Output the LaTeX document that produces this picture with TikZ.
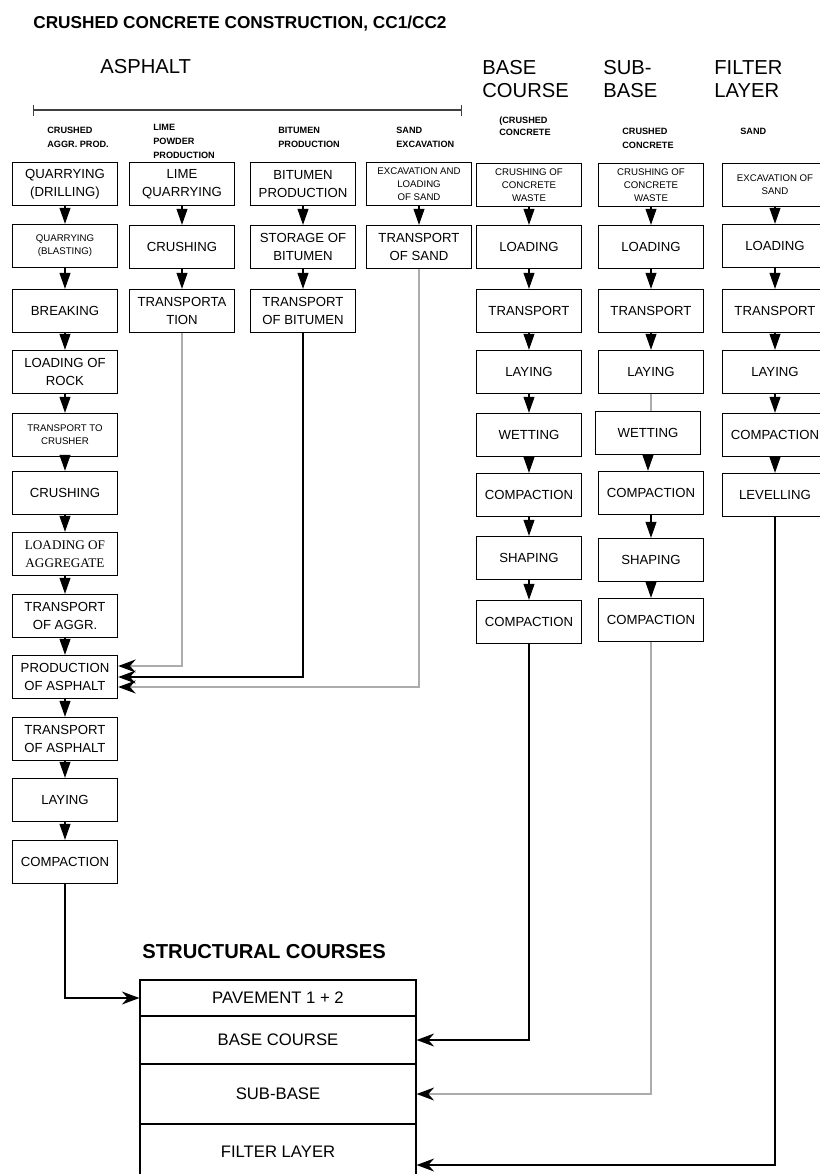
\documentclass[tikz,border=0pt]{standalone}
\usepackage{fontspec}
\setmainfont{Liberation Sans}
\newfontfamily\timesfont{Liberation Serif}
\usetikzlibrary{arrows.meta}

\begin{document}
\begin{tikzpicture}[x=0.02cm, y=-0.02cm,
  box/.style={draw, line width=0.8pt, minimum width=2.1cm, minimum height=0.86cm,
    align=center, inner sep=1pt, font=\fontsize{7.5}{10.5}\selectfont},
  smalltext/.style={font=\fontsize{5.5}{7.5}\selectfont},
  subhead/.style={anchor=west, align=left, inner sep=0pt, font=\bfseries\fontsize{5.2}{8}\selectfont},
  heading/.style={anchor=west, align=left, inner sep=0pt, font=\fontsize{11.5}{13.6}\selectfont},
  course/.style={draw, line width=0.7pt, minimum width=5.52cm, font=\fontsize{9.5}{11}\selectfont},
  flow/.style={-{Triangle[length=0.32cm,width=0.22cm]}, line width=0.6pt},
  feed/.style={-{Stealth[length=0.35cm,width=0.26cm,black]}, line width=0.7pt},
  pale/.style={draw=gray!65}]
  \useasboundingbox (0,0) rectangle (820,1174);
  \clip (0,0) rectangle (820,1174);

  % headings
  \node[heading, font=\bfseries\fontsize{9.8}{12}\selectfont] (title) at (33,24) {CRUSHED CONCRETE CONSTRUCTION, CC1/CC2};
  \node[heading] (asph) at (100,67) {ASPHALT};
  \node[heading] (basehd) at (482,79) {BASE\\COURSE};
  \node[heading] (subhd) at (603,79) {SUB-\\BASE};
  \node[heading] (filthd) at (714,79) {FILTER\\LAYER};
  \coordinate (barl) at (33,110);
  \coordinate (barr) at (462,110);
  \draw[gray!50!black, line width=0.6pt, {Bar[width=0.22cm]}-{Bar[width=0.22cm]}] (barl) -- (barr);

  \node[subhead] (sh1) at (47,137) {CRUSHED\\AGGR. PROD.};
  \node[subhead] (sh2) at (153,141) {LIME\\POWDER\\PRODUCTION};
  \node[subhead] (sh3) at (278,137) {BITUMEN\\PRODUCTION};
  \node[subhead] (sh4) at (396,137) {SAND\\EXCAVATION};
  \node[subhead, font=\bfseries\fontsize{5.2}{7}\selectfont] (sh5) at (499,126) {(CRUSHED\\CONCRETE};
  \node[subhead] (sh6) at (622,138) {CRUSHED\\CONCRETE};
  \node[subhead] (sh7) at (740,131) {SAND};

  % asphalt aggregate
  \node[box] (a1) at (65,184) {QUARRYING\\(DRILLING)};
  \node[box, smalltext] (a2) at (65,246) {QUARRYING\\(BLASTING)};
  \node[box] (a3) at (65,311) {BREAKING};
  \node[box] (a4) at (65,372) {LOADING OF\\ROCK};
  \node[box, smalltext] (a5) at (65,435) {TRANSPORT TO\\CRUSHER};
  \node[box] (a6) at (65,493) {CRUSHING};
  \node[box, font=\timesfont\fontsize{7.5}{10.5}\selectfont] (a7) at (65,554) {LOADING OF\\AGGREGATE};
  \node[box] (a8) at (65,616) {TRANSPORT\\OF AGGR.};
  \node[box] (a9) at (65,677) {PRODUCTION\\OF ASPHALT};
  \node[box] (a10) at (65,739) {TRANSPORT\\OF ASPHALT};
  \node[box] (a11) at (65,800) {LAYING};
  \node[box] (a12) at (65,862) {COMPACTION};

  % lime, bitumen, sand
  \node[box] (l1) at (182,184) {LIME\\QUARRYING};
  \node[box] (l2) at (182,247) {CRUSHING};
  \node[box] (l3) at (182,311) {TRANSPORTA\\TION};
  \node[box] (b1) at (303,184) {BITUMEN\\PRODUCTION};
  \node[box] (b2) at (303,247) {STORAGE OF\\BITUMEN};
  \node[box] (b3) at (303,311) {TRANSPORT\\OF BITUMEN};
  \node[box, smalltext] (s1) at (419,184) {EXCAVATION AND\\LOADING\\OF SAND};
  \node[box] (s2) at (419,247) {TRANSPORT\\OF SAND};

  % base course
  \node[box, smalltext] (c1) at (529,185) {CRUSHING OF\\CONCRETE\\WASTE};
  \node[box] (c2) at (529,247) {LOADING};
  \node[box] (c3) at (529,311) {TRANSPORT};
  \node[box] (c4) at (529,372) {LAYING};
  \node[box] (c5) at (529,435) {WETTING};
  \node[box] (c6) at (529,495) {COMPACTION};
  \node[box] (c7) at (529,558) {SHAPING};
  \node[box] (c8) at (529,622) {COMPACTION};

  % sub-base
  \node[box, smalltext] (d1) at (651,185) {CRUSHING OF\\CONCRETE\\WASTE};
  \node[box] (d2) at (651,247) {LOADING};
  \node[box] (d3) at (651,311) {TRANSPORT};
  \node[box] (d4) at (651,372) {LAYING};
  \node[box] (d5) at (648,433) {WETTING};
  \node[box] (d6) at (651,493) {COMPACTION};
  \node[box] (d7) at (651,560) {SHAPING};
  \node[box] (d8) at (651,620) {COMPACTION};

  % filter layer
  \node[box, smalltext] (f1) at (775,185) {EXCAVATION OF\\SAND};
  \node[box] (f2) at (775,246) {LOADING};
  \node[box] (f3) at (775,311) {TRANSPORT};
  \node[box] (f4) at (775,372) {LAYING};
  \node[box] (f5) at (775,435) {COMPACTION};
  \node[box] (f6) at (775,495) {LEVELLING};

  \foreach \i [count=\j from 2] in {1,...,11}
    \draw[flow] (a\i) -- (a\j);
  \foreach \col in {l,b}{
    \draw[flow] (\col1) -- (\col2);
    \draw[flow] (\col2) -- (\col3);
  }
  \draw[flow] (s1) -- (s2);
  \foreach \i [count=\j from 2] in {1,...,7}
    \draw[flow] (c\i) -- (c\j);
  \foreach \i/\j in {1/2,2/3,3/4,5/6,6/7,7/8}
    \draw[flow] (d\i.south) -- (d\i.south |- d\j.north);
  \draw[pale, line width=0.6pt] (d4.south) -- (d4.south |- d5.north);
  \foreach \i [count=\j from 2] in {1,...,5}
    \draw[flow] (f\i) -- (f\j);

  \draw[feed, pale] (l3.south) |- ([yshift=0.22cm]a9.east);
  \draw[feed] (b3.south) |- (a9.east);
  \draw[feed, pale] (s2.south) |- ([yshift=-0.2cm]a9.east);

  % structural courses
  \node[heading, font=\bfseries\fontsize{11.5}{13}\selectfont] (stru) at (142,952) {STRUCTURAL COURSES};
  \node[course, minimum height=0.72cm] (pav) at (278,998) {PAVEMENT 1 + 2};
  \node[course, minimum height=0.96cm] (bc) at (278,1040) {BASE COURSE};
  \node[course, minimum height=1.2cm] (sb) at (278,1094) {SUB-BASE};
  \node[course, minimum height=1.12cm] (fl) at (278,1152) {FILTER LAYER};

  \draw[feed] (a12.south) |- (pav.west);
  \draw[feed] (c8.south) |- (bc.east);
  \draw[feed, pale] (d8.south) |- (sb.east);
  \draw[feed] (f6.south) |- ([yshift=-0.26cm]fl.east);
\end{tikzpicture}
\end{document}
